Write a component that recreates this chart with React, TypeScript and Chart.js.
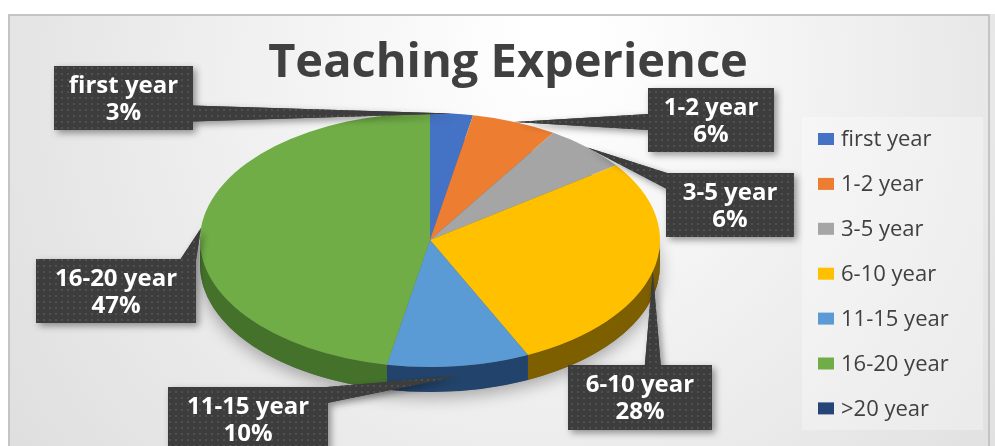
import { useEffect, useRef } from "react";
import Chart from "chart.js/auto";

// ---- data ----
const categories = ["first year", "1-2 year", "3-5 year", "6-10 year", "11-15 year", "16-20 year", ">20 year"];
const shares = [3, 6, 6, 28, 10, 47, 0];
const sliceColors = ["#4472C4", "#ED7D31", "#A5A5A5", "#FFC000", "#5B9BD5", "#70AD47", "#264478"];
const sideColors = ["#2f5196", "#b05a1f", "#7a7a7a", "#7d5f00", "#22446c", "#44722a", "#1a2f54"];
const chartTitle = "Teaching Experience";

// ---- layout (not data) ----
// callout boxes: [left, top, width, height]
const calloutBoxes: (number[] | null)[] = [
  [54, 66, 139, 64],
  [648, 88, 126, 64],
  [666, 173, 128, 64],
  [568, 365, 144, 65],
  [168, 387, 160, 64],
  [36, 259, 160, 64],
  null,
];
const X_STRETCH = 230 / 127;
const DEPTH = 25;
const LABEL_FONT = "bold 24px 'Open Sans'";
const LEGEND_FONT = "22px 'Open Sans'";

function makePattern(ctx: CanvasRenderingContext2D) {
  const c = document.createElement("canvas");
  c.width = 6;
  c.height = 6;
  const g = c.getContext("2d")!;
  g.fillStyle = "#3d3d3d";
  g.fillRect(0, 0, 6, 6);
  g.fillStyle = "rgba(255,255,255,0.10)";
  g.fillRect(1, 1, 2, 2);
  return ctx.createPattern(c, "repeat") || "#3d3d3d";
}

const pie3d = {
  id: "pie3d",
  beforeDraw(chart: any) {
    const { ctx, width, height } = chart;
    ctx.save();
    ctx.fillStyle = "#ffffff";
    ctx.fillRect(0, 0, width, height);
    const g = ctx.createRadialGradient(560, 40, 30, 520, 120, 720);
    g.addColorStop(0, "#ffffff");
    g.addColorStop(0.45, "#eeeeee");
    g.addColorStop(1, "#d9d9d9");
    ctx.fillStyle = g;
    ctx.fillRect(8, 14, width - 8, height - 14);
    ctx.strokeStyle = "#c4c4c4";
    ctx.lineWidth = 2;
    ctx.beginPath();
    ctx.moveTo(9, height);
    ctx.lineTo(9, 15);
    ctx.lineTo(width - 6, 15);
    ctx.lineTo(width - 6, height);
    ctx.stroke();
    // legend panel
    ctx.fillStyle = "rgba(255,255,255,0.3)";
    ctx.fillRect(802, 117, 181, 313);
    ctx.restore();
  },
  beforeDatasetsDraw(chart: any) {
    const { ctx } = chart;
    const meta = chart.getDatasetMeta(0);
    const a0: any = meta.data[0];
    const { x: cx, y: cy, outerRadius: r } = a0.getProps(["x", "y", "outerRadius"], true);
    ctx.save();
    ctx.translate(cx, cy);
    ctx.scale(X_STRETCH, 1);
    ctx.translate(-cx, -cy);
    // shadow under the pie
    ctx.save();
    ctx.shadowColor = "rgba(0,0,0,0.3)";
    ctx.shadowBlur = 16;
    ctx.shadowOffsetY = 6;
    ctx.fillStyle = "#666";
    ctx.beginPath();
    ctx.arc(cx, cy + DEPTH, r, 0, Math.PI * 2);
    ctx.fill();
    ctx.restore();
    // sides
    meta.data.forEach((arc: any, i: number) => {
      const { startAngle, endAngle } = arc.getProps(["startAngle", "endAngle"], true);
      const s = Math.max(startAngle, 0);
      const e = Math.min(endAngle, Math.PI);
      if (e <= s) return;
      ctx.beginPath();
      ctx.arc(cx, cy, r, s, e);
      ctx.lineTo(cx + r * Math.cos(e), cy + DEPTH + r * Math.sin(e));
      ctx.arc(cx, cy + DEPTH, r, e, s, true);
      ctx.closePath();
      ctx.fillStyle = sideColors[i];
      ctx.fill();
    });
  },
  afterDatasetsDraw(chart: any) {
    chart.ctx.restore();
  },
  afterDraw(chart: any) {
    const { ctx } = chart;
    const meta = chart.getDatasetMeta(0);
    const total = shares.reduce((a, b) => a + b, 0);
    ctx.save();
    // title
    ctx.fillStyle = "#404040";
    ctx.font = "bold 47px 'Open Sans'";
    ctx.textAlign = "center";
    ctx.textBaseline = "middle";
    ctx.fillText(chartTitle, 508, 64);

    // legend
    ctx.font = LEGEND_FONT;
    ctx.textAlign = "left";
    categories.forEach((c, i) => {
      const y = 139 + i * 44.9;
      ctx.fillStyle = sliceColors[i];
      ctx.fillRect(818, y - 6, 16, 12);
      ctx.fillStyle = "#404040";
      ctx.fillText(c, 841, y + 1);
    });

    // callouts
    const pat = makePattern(ctx);
    meta.data.forEach((arc: any, i: number) => {
      const box = calloutBoxes[i];
      if (!box) return;
      const { x: cx, y: cy, outerRadius: r, startAngle, endAngle } = arc.getProps(
        ["x", "y", "outerRadius", "startAngle", "endAngle"],
        true
      );
      const mid = (startAngle + endAngle) / 2;
      const ax = cx + X_STRETCH * r * Math.cos(mid);
      let ay = cy + r * Math.sin(mid);
      if (Math.sin(mid) > 0.9) ay += DEPTH * 0.4;
      const [bl, bt, bw, bh] = box;
      const br = bl + bw;
      const bb = bt + bh;
      const dx = ax < bl ? bl - ax : ax > br ? ax - br : 0;
      const dy = ay < bt ? bt - ay : ay > bb ? ay - bb : 0;
      const w = 8;
      let p1: number[], p2: number[];
      if (dx >= dy) {
        const ex = ax < bl ? bl + 1 : br - 1;
        const ey = Math.min(Math.max(ay, bt + w), bb - w);
        p1 = [ex, ey - w];
        p2 = [ex, ey + w];
      } else {
        const ey = ay < bt ? bt + 1 : bb - 1;
        const ex = Math.min(Math.max(ax, bl + w), br - w);
        p1 = [ex - w, ey];
        p2 = [ex + w, ey];
      }
      const shape = () => {
        ctx.beginPath();
        ctx.moveTo(ax, ay);
        ctx.lineTo(p1[0], p1[1]);
        ctx.lineTo(p2[0], p2[1]);
        ctx.closePath();
        ctx.fill();
        ctx.fillRect(bl, bt, bw, bh);
      };
      ctx.save();
      ctx.shadowColor = "rgba(0,0,0,0.4)";
      ctx.shadowBlur = 7;
      ctx.shadowOffsetX = 3;
      ctx.shadowOffsetY = 3;
      ctx.fillStyle = pat;
      shape();
      ctx.restore();
      ctx.fillStyle = pat;
      shape();

      ctx.fillStyle = "#ffffff";
      ctx.font = LABEL_FONT;
      ctx.textAlign = "center";
      ctx.textBaseline = "middle";
      const pct = Math.round((shares[i] / total) * 100) + "%";
      ctx.fillText(categories[i], bl + bw / 2, bt + 20);
      ctx.fillText(pct, bl + bw / 2, bt + 47);
    });
    ctx.restore();
  },
};

export default function App() {
  const ref = useRef<HTMLCanvasElement | null>(null);
  useEffect(() => {
    if (!ref.current) return;
    const chart = new Chart(ref.current, {
      type: "pie",
      data: {
        labels: categories,
        datasets: [
          {
            data: shares,
            backgroundColor: sliceColors,
            borderWidth: 0,
            clip: false,
          } as any,
        ],
      },
      options: {
        responsive: false,
        animation: false,
        layout: { padding: { top: 113, bottom: 79, left: 303, right: 438 } },
        plugins: {
          legend: { display: false },
          title: { display: false },
          tooltip: { enabled: false },
        },
      },
      plugins: [pie3d],
    });
    return () => chart.destroy();
  }, []);
  return (
    <div style={{ position: "fixed", left: 0, top: 0, width: 995, height: 446 }}>
      <canvas ref={ref} width={995} height={446} style={{ display: "block" }} />
    </div>
  );
}
